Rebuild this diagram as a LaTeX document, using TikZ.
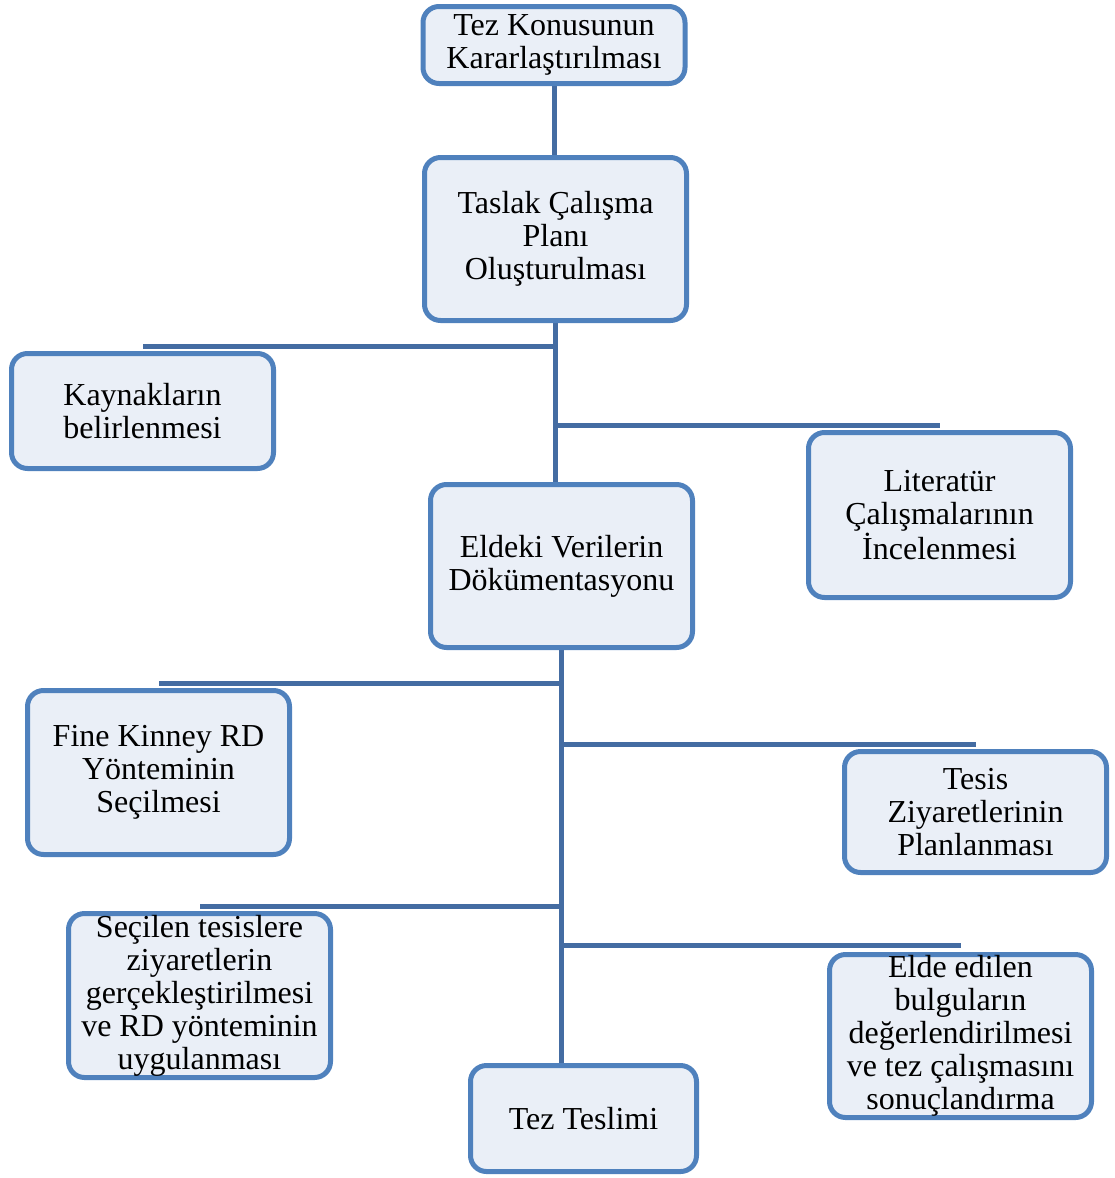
\documentclass[tikz,border=0pt]{standalone}
\usepackage{fontspec}
\setmainfont{Liberation Serif}
\usetikzlibrary{positioning,backgrounds}
\definecolor{kutukenar}{RGB}{79,129,189}
\definecolor{kutuic}{RGB}{234,239,247}
\definecolor{hatrenk}{RGB}{68,108,162}
\tikzset{kutu/.style={draw=kutukenar, fill=kutuic, line width=5pt, rounded corners=16pt,
    align=center, inner sep=0pt, minimum width=262pt, font=\fontsize{32}{33}\selectfont},
  hat/.style={draw=hatrenk, line width=5pt}}

\begin{document}
\begin{tikzpicture}[x=1pt,y=-1pt]
	\useasboundingbox (0,0) rectangle (1115,1178);
	% kutular
	\node[kutu, minimum height=77pt] (konu) at (554,45) {Tez Konusunun\\Kararlaştırılması};
	\node[kutu, minimum height=163pt] (taslak) at (555.5,239) {Taslak Çalışma\\Planı\\Oluşturulması};
	\node[kutu, minimum height=115pt] (kaynak) at (142.5,411) {Kaynakların\\belirlenmesi};
	\node[kutu, minimum height=165pt] (literatur) at (939.5,515) {Literatür\\Çalışmalarının\\İncelenmesi};
	\node[kutu, minimum height=163pt] (eldeki) at (561.5,566) {Eldeki Verilerin\\Dökümentasyonu};
	\node[kutu, minimum height=164pt] (fine) at (158.5,772.5) {Fine Kinney RD\\Yönteminin\\Seçilmesi};
	\node[kutu, minimum height=121pt] (tesis) at (975.5,812) {Tesis\\Ziyaretlerinin\\Planlanması};
	\node[kutu, minimum height=164pt] (secilen) at (199.5,995.5) {Seçilen tesislere\\ziyaretlerin\\gerçekleştirilmesi\\ve RD yönteminin\\uygulanması};
	\node[kutu, minimum height=163pt] (bulgu) at (960.5,1036) {Elde edilen\\bulguların\\değerlendirilmesi\\ve tez çalışmasını\\sonuçlandırma};
	\node[kutu, minimum height=106pt, minimum width=226pt] (teslim) at (583.5,1118.5) {Tez Teslimi};
	% dal noktalari
	\coordinate (k1) at ([yshift=4.5pt]kaynak.north);
	\coordinate (l1) at ([yshift=4.5pt]literatur.north);
	\coordinate (f1) at ([yshift=4.5pt]fine.north);
	\coordinate (t1) at ([yshift=4.5pt]tesis.north);
	\coordinate (s1) at ([yshift=4.5pt]secilen.north);
	\coordinate (b1) at ([yshift=6.5pt]bulgu.north);
	\begin{scope}[on background layer]
		\draw[hat] (konu.south) -- (konu.south |- taslak.north);
		\draw[hat] (taslak.south) -- (taslak.south |- eldeki.north);
		\draw[hat] (taslak.south |- k1) -- (k1);
		\draw[hat] (taslak.south |- l1) -- (l1);
		\draw[hat] (eldeki.south) -- (eldeki.south |- teslim.north);
		\draw[hat] (eldeki.south |- f1) -- (f1);
		\draw[hat] (eldeki.south |- t1) -- (t1);
		\draw[hat] (eldeki.south |- s1) -- (s1);
		\draw[hat] (eldeki.south |- b1) -- (b1);
	\end{scope}
\end{tikzpicture}
\end{document}
